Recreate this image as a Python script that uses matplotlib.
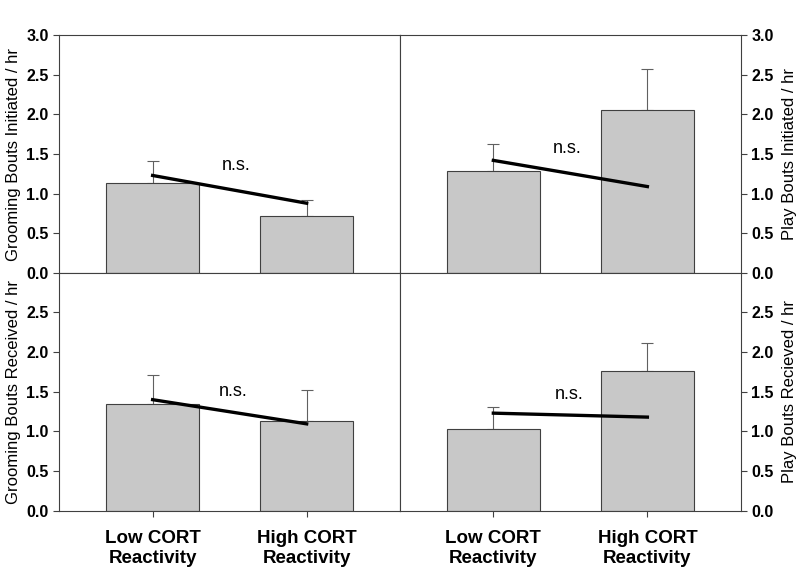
import matplotlib
matplotlib.use("Agg")
import matplotlib.pyplot as plt

plt.rcParams['font.family'] = ['Liberation Sans', 'DejaVu Sans']

groups = ["Low CORT\nReactivity", "High CORT\nReactivity"]

# panel order: top-left, top-right, bottom-left, bottom-right
ylabels = ["Grooming Bouts Initiated / hr", "Play Bouts Initiated / hr",
           "Grooming Bouts Received / hr", "Play Bouts Recieved / hr"]
means = [[1.13, 0.72], [1.28, 2.06], [1.34, 1.13], [1.03, 1.76]]
errs = [[0.28, 0.20], [0.35, 0.51], [0.37, 0.39], [0.28, 0.36]]
trend = [[1.23, 0.88], [1.42, 1.09], [1.40, 1.095], [1.23, 1.18]]
ns_pos = [(0.54, 1.35), (0.48, 1.57), (0.52, 1.50), (0.49, 1.47)]

fig = plt.figure(figsize=(8, 5.7), dpi=100)
w, h = 0.4259, 0.4175
rects = [(0.0741, 0.521), (0.5, 0.521), (0.0741, 0.104), (0.5, 0.104)]
edge = "#404040"
x = [0, 1]

for i, (left, bottom) in enumerate(rects):
    ax = fig.add_axes([left, bottom, w, h])
    ax.bar(x, means[i], width=0.6, color="#c8c8c8", edgecolor=edge, linewidth=0.8, zorder=2)
    ax.errorbar(x, means[i], yerr=[[0, 0], errs[i]], fmt="none", ecolor="#606060",
                elinewidth=0.8, capsize=4, capthick=0.8, zorder=1)
    ax.plot(x, trend[i], color="black", linewidth=2.4, zorder=3)
    ax.text(ns_pos[i][0], ns_pos[i][1], "n.s.", ha="center", va="center", fontsize=13)
    ax.set_xlim(-0.606, 1.606)
    ax.set_ylim(0, 3)
    ticks = [0, 0.5, 1.0, 1.5, 2.0, 2.5, 3.0] if i < 2 else [0, 0.5, 1.0, 1.5, 2.0, 2.5]
    ax.set_yticks(ticks)
    ax.set_yticklabels(["%.1f" % t for t in ticks], fontweight="bold", fontsize=11.5)
    ax.set_xticks(x)
    if i >= 2:
        ax.set_xticklabels(groups, fontweight="bold", fontsize=13.5)
        ax.tick_params(axis="x", pad=10)
    else:
        ax.set_xticklabels([])
    for s in ax.spines.values():
        s.set_color(edge)
        s.set_linewidth(0.8)
    ax.tick_params(colors=edge, labelcolor="black", width=0.8, length=4)
    if i % 2 == 1:
        ax.yaxis.tick_right()
        ax.yaxis.set_label_position("right")
        ax.set_ylabel(ylabels[i], fontsize=12, labelpad=6)
    else:
        ax.set_ylabel(ylabels[i], fontsize=12, labelpad=4)

fig.savefig("out.png", dpi=100)
